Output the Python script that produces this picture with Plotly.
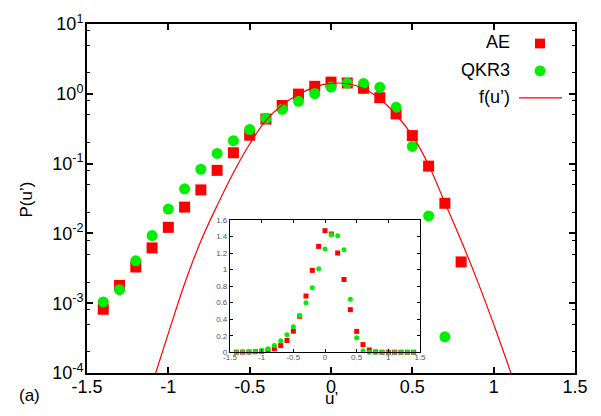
import plotly.graph_objects as go

# ---------------- data ----------------
u_vals = [-1.4, -1.3, -1.2, -1.1, -1.0, -0.9, -0.8, -0.7, -0.6, -0.5, -0.4, -0.3, -0.2, -0.1,
          0.0, 0.1, 0.2, 0.3, 0.4, 0.5, 0.6, 0.7, 0.8, 0.9, 1.0, 1.1, 1.2, 1.3, 1.4]
ae_vals = [8.2e-4, 1.8e-3, 3.3e-3, 6.2e-3, 0.0122, 0.0238, 0.042, 0.080, 0.143, 0.255, 0.435,
           0.68, 0.99, 1.28, 1.47, 1.43, 1.20, 0.88, 0.515, 0.252, 0.092, 0.027, 0.0039,
           0, 0, 0, 0, 0, 0]
qkr3_vals = [1.04e-3, 1.56e-3, 4.05e-3, 9.3e-3, 0.0223, 0.0435, 0.083, 0.14, 0.213, 0.308, 0.445,
             0.60, 0.78, 1.01, 1.25, 1.42, 1.41, 1.24, 0.64, 0.176, 0.0178, 3.3e-4,
             0, 0, 0, 0, 0, 0, 0]
# f(u') curve, values
f_u = [-1.2, -1.1, -1.0, -0.9, -0.8, -0.7, -0.6, -0.5, -0.4, -0.3, -0.2, -0.1, 0.0,
       0.1, 0.2, 0.3, 0.4, 0.5, 0.6, 0.7, 0.8, 0.9, 1.0, 1.1, 1.2]
f_vals = [1.26e-5, 6.9e-5, 3.7e-4, 1.9e-3, 7.8e-3, 0.0251, 0.0741, 0.191, 0.417, 0.692, 0.977,
          1.259, 1.413, 1.396, 1.189, 0.851, 0.501, 0.251, 0.0955, 0.0275, 7.9e-3, 2.09e-3,
          5.0e-4, 1.10e-4, 2.19e-5]

x_ticks = [-1.5, -1.0, -0.5, 0.0, 0.5, 1.0, 1.5]
x_ticktext = ["-1.5", "-1", "-0.5", "0", "0.5", "1", "1.5"]
y_ticks = [1e-4, 1e-3, 1e-2, 1e-1, 1e0, 1e1]
y_ticktext = ["10<sup>-4</sup>", "10<sup>-3</sup>", "10<sup>-2</sup>", "10<sup>-1</sup>",
              "10<sup>0</sup>", "10<sup>1</sup>"]
inset_yticks = [0, 0.2, 0.4, 0.6, 0.8, 1.0, 1.2, 1.4, 1.6]
inset_yticktext = ["0", "0.2", "0.4", "0.6", "0.8", "1", "1.2", "1.4", "1.6"]

RED = "#ff0000"
GREEN = "#00ee00"
FONT = "Liberation Sans, Arial, sans-serif"

# ---------------- geometry helpers (pixel -> paper) ----------------
W, H = 601, 416
L, R, T, B = 87, 26, 15, 43
PW, PH = W - L - R, H - T - B


def px(x):
    return (x - L) / PW


def py(y):
    return (H - B - y) / PH


main_ae = [(u, v) for u, v in zip(u_vals, ae_vals) if v > 0]
main_qk = [(u, v) for u, v in zip(u_vals, qkr3_vals) if v > 0]

fig = go.Figure()
fig.add_trace(go.Scatter(x=[p[0] for p in main_ae], y=[p[1] for p in main_ae], mode="markers",
                         marker=dict(symbol="square", size=11, color=RED, line=dict(width=0)),
                         name="AE", cliponaxis=False))
fig.add_trace(go.Scatter(x=[p[0] for p in main_qk], y=[p[1] for p in main_qk], mode="markers",
                         marker=dict(symbol="circle", size=11, color=GREEN, line=dict(width=0)),
                         name="QKR3", cliponaxis=False))
fig.add_trace(go.Scatter(x=f_u, y=f_vals, mode="lines", line=dict(color=RED, width=1.2, shape="spline"),
                         name="f(u’)"))

# inset
fig.add_trace(go.Scatter(x=u_vals, y=ae_vals, mode="markers", xaxis="x2", yaxis="y2",
                         marker=dict(symbol="square", size=5, color=RED, line=dict(width=0)),
                         cliponaxis=False))
fig.add_trace(go.Scatter(x=u_vals, y=qkr3_vals, mode="markers", xaxis="x2", yaxis="y2",
                         marker=dict(symbol="circle", size=5, color=GREEN, line=dict(width=0)),
                         cliponaxis=False))

axis_common = dict(showline=True, linecolor="black", mirror="ticks", ticks="inside",
                   showgrid=False, zeroline=False, tickcolor="black")

fig.update_layout(
    width=W, height=H,
    margin=dict(l=L, r=R, t=T, b=B, pad=0),
    paper_bgcolor="white", plot_bgcolor="white",
    showlegend=False,
    font=dict(family=FONT, color="black", size=17),
    xaxis=dict(**axis_common, range=[-1.5, 1.5], tickmode="array", tickvals=x_ticks,
               ticktext=x_ticktext, ticklen=6, tickwidth=1.5, linewidth=2,
               ticklabelstandoff=-4,
               tickfont=dict(size=18, color="black"), domain=[0, 1]),
    yaxis=dict(**axis_common, type="log", range=[-4, 1], tickmode="array", tickvals=y_ticks,
               ticktext=y_ticktext, ticklen=6, tickwidth=1.5, linewidth=2,
               ticklabelstandoff=-2,
               tickfont=dict(size=18, color="black"), domain=[0, 1],
               minor=dict(tickvals=[m * 10 ** e for e in range(-4, 1) for m in (2, 5, 8)],
                          ticks="inside", ticklen=3, tickwidth=1.2, tickcolor="black")),
    xaxis2=dict(**axis_common, anchor="y2", domain=[px(230), px(420)], range=[-1.5, 1.5],
                tickmode="array", tickvals=x_ticks, ticktext=x_ticktext, ticklen=3, tickwidth=1,
                ticklabelstandoff=-3,
                linewidth=1.3, tickfont=dict(size=8, color="#555555")),
    yaxis2=dict(**axis_common, anchor="x2", domain=[py(351.7), py(216)], range=[0, 1.6],
                tickmode="array", tickvals=inset_yticks, ticktext=inset_yticktext, ticklen=3,
                tickwidth=1, linewidth=1.3, tickfont=dict(size=8, color="#555555")),
)

ann = [
    dict(text="P(u’)", x=px(26), y=py(195), textangle=-90, font=dict(size=17)),
    dict(text="u’", x=px(331), y=py(399.5), font=dict(size=17)),
    dict(text="(a)", x=px(29), y=py(396.5), font=dict(size=17)),
    dict(text="AE", x=px(512), y=py(33.5), xanchor="right", font=dict(size=18)),
    dict(text="QKR3", x=px(512), y=py(61.7), xanchor="right", font=dict(size=18)),
    dict(text="f(u’)", x=px(512), y=py(90), xanchor="right", font=dict(size=18)),
]
for a in ann:
    a.setdefault("xanchor", "center")
    fig.add_annotation(xref="paper", yref="paper", showarrow=False, yanchor="middle", **a)

fig.add_shape(type="rect", xref="paper", yref="paper", x0=px(535), x1=px(545), y0=py(40), y1=py(30),
              fillcolor=RED, line=dict(width=0))
fig.add_shape(type="circle", xref="paper", yref="paper", x0=px(534.5), x1=px(545.5), y0=py(68.5),
              y1=py(57.5), fillcolor=GREEN, line=dict(width=0))
fig.add_shape(type="line", xref="paper", yref="paper", x0=px(519), x1=px(562), y0=py(90.7),
              y1=py(90.7), line=dict(color=RED, width=1.2))

fig.write_html("out.html")
